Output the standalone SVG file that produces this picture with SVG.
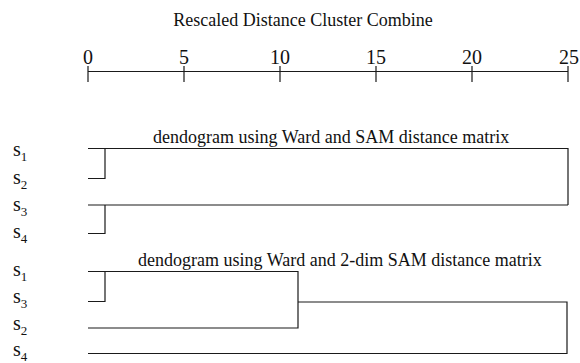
<svg xmlns="http://www.w3.org/2000/svg" width="580" height="363" viewBox="0 0 580 363">
  <style>
    text { font-family: "Liberation Serif", "Times New Roman", serif; fill: #111; }
    .t { font-size: 18px; }
    .num { font-size: 20px; }
    .lab { font-size: 20px; }
    .sub { font-size: 13px; }
    .ln { stroke: #1a1a1a; stroke-width: 1.2; fill: none; }
  </style>

  <!-- scale header -->
  <g id="axis">
    <text class="t" x="303" y="26" text-anchor="middle">Rescaled Distance Cluster Combine</text>
    <g text-anchor="middle" class="num">
      <text x="88" y="64">0</text>
      <text x="184" y="64">5</text>
      <text x="280" y="64">10</text>
      <text x="376" y="64">15</text>
      <text x="472" y="64">20</text>
      <text x="569" y="64">25</text>
    </g>
    <path class="ln" d="M88 71.5 H568 M88 66 V82 M184 66 V82 M280 66 V82 M376 66 V82 M472 66 V82 M568 66 V82"/>
  </g>

  <!-- first tree: Ward + SAM -->
  <g id="tree1">
    <text class="t" x="153" y="143">dendogram using Ward and SAM distance matrix</text>
    <g id="t1-s1"><text class="lab" x="13" y="156">s<tspan class="sub" dy="5">1</tspan></text></g>
    <g id="t1-s2"><text class="lab" x="13" y="184">s<tspan class="sub" dy="5">2</tspan></text></g>
    <g id="t1-s3"><text class="lab" x="13" y="211">s<tspan class="sub" dy="5">3</tspan></text></g>
    <g id="t1-s4"><text class="lab" x="13" y="238">s<tspan class="sub" dy="5">4</tspan></text></g>
  </g>

  <!-- second tree: Ward + 2-dim SAM -->
  <g id="tree2">
    <text class="t" x="138" y="266">dendogram using Ward and 2-dim SAM distance matrix</text>
    <g id="t2-s1"><text class="lab" x="13" y="276">s<tspan class="sub" dy="5">1</tspan></text></g>
    <g id="t2-s3"><text class="lab" x="13" y="303">s<tspan class="sub" dy="5">3</tspan></text></g>
    <g id="t2-s2"><text class="lab" x="13" y="330">s<tspan class="sub" dy="5">2</tspan></text></g>
    <g id="t2-s4"><text class="lab" x="13" y="356">s<tspan class="sub" dy="5">4</tspan></text></g>
  </g>

  <!-- merge branches -->
  <g id="connectors" class="ln">
    <path class="ln" d="M88 148.5 H568 V205 M88 178.5 H105 V148.5"/>
    <path class="ln" d="M88 205 H568 M88 233.5 H105 V205"/>
    <path class="ln" d="M88 271.5 H298 V328 H88 M88 301.5 H105 V271.5 M298 302 H567 V353.5 H88"/>
  </g>
</svg>
